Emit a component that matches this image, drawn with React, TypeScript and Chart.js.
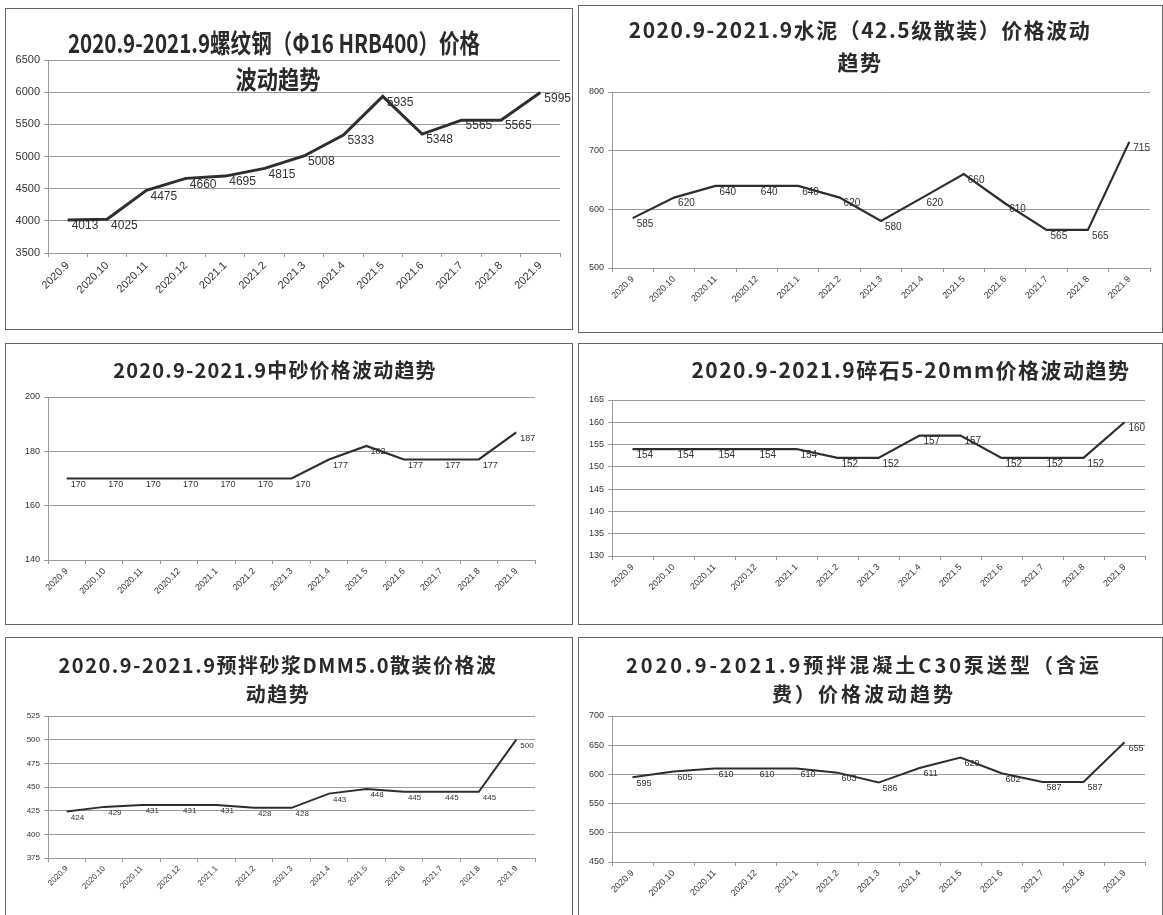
import React, { useEffect, useRef } from "react";
import { Chart, registerables } from "chart.js";

Chart.register(...registerables);

const categories = ["2020.9", "2020.10", "2020.11", "2020.12", "2021.1", "2021.2", "2021.3", "2021.4", "2021.5", "2021.6", "2021.7", "2021.8", "2021.9"];

const rebarPrices = [4013, 4025, 4475, 4660, 4695, 4815, 5008, 5333, 5935, 5348, 5565, 5565, 5995];
const cementPrices = [585, 620, 640, 640, 640, 620, 580, 620, 660, 610, 565, 565, 715];
const sandPrices = [170, 170, 170, 170, 170, 170, 170, 177, 182, 177, 177, 177, 187];
const gravelPrices = [154, 154, 154, 154, 154, 152, 152, 157, 157, 152, 152, 152, 160];
const mortarPrices = [424, 429, 431, 431, 431, 428, 428, 443, 448, 445, 445, 445, 500];
const concretePrices = [595, 605, 610, 610, 610, 603, 586, 611, 629, 602, 587, 587, 655];

const rebarTicks = [3500, 4000, 4500, 5000, 5500, 6000, 6500];
const cementTicks = [500, 600, 700, 800];
const sandTicks = [140, 160, 180, 200];
const gravelTicks = [130, 135, 140, 145, 150, 155, 160, 165];
const mortarTicks = [375, 400, 425, 450, 475, 500, 525];
const concreteTicks = [450, 500, 550, 600, 650, 700];

const rebarTitle = ["2020.9-2021.9螺纹钢（Φ16 HRB400）价格", "波动趋势"];
const cementTitle = ["2020.9-2021.9水泥（42.5级散装）价格波动", "趋势"];
const sandTitle = ["2020.9-2021.9中砂价格波动趋势"];
const gravelTitle = ["2020.9-2021.9碎石5-20mm价格波动趋势"];
const mortarTitle = ["2020.9-2021.9预拌砂浆DMM5.0散装价格波", "动趋势"];
const concreteTitle = ["2020.9-2021.9预拌混凝土C30泵送型（含运", "费）价格波动趋势"];

type Box = { x: number; y: number; w: number; h: number };
type Plot = { l: number; t: number; r: number; b: number };
type TitleLine = { cx: number; cy: number; size: number; scaleX: number; spacing: number };

type PanelCfg = {
  box: Box;
  plot: Plot;
  values: number[];
  ticks: number[];
  title: string[];
  titleLines: TitleLine[];
  tickSize: number;
  labelSize: number;
  lineWidth: number;
};

const panels: PanelCfg[] = [
  {
    box: { x: 5, y: 8, w: 568, h: 322 },
    plot: { l: 48, t: 60, r: 560, b: 253 },
    values: rebarPrices,
    ticks: rebarTicks,
    title: rebarTitle,
    titleLines: [
      { cx: 274, cy: 42, size: 26, scaleX: 0.79, spacing: 0 },
      { cx: 278, cy: 78, size: 25, scaleX: 0.85, spacing: 0 },
    ],
    tickSize: 11,
    labelSize: 12,
    lineWidth: 3,
  },
  {
    box: { x: 578, y: 5, w: 585, h: 328 },
    plot: { l: 612, t: 92, r: 1150, b: 268 },
    values: cementPrices,
    ticks: cementTicks,
    title: cementTitle,
    titleLines: [
      { cx: 860, cy: 30, size: 21, scaleX: 1, spacing: 1.5 },
      { cx: 860, cy: 62, size: 21, scaleX: 1, spacing: 1.5 },
    ],
    tickSize: 9,
    labelSize: 10,
    lineWidth: 2.2,
  },
  {
    box: { x: 5, y: 343, w: 568, h: 282 },
    plot: { l: 48, t: 397, r: 535, b: 560 },
    values: sandPrices,
    ticks: sandTicks,
    title: sandTitle,
    titleLines: [{ cx: 275, cy: 370, size: 20, scaleX: 1, spacing: 1.2 }],
    tickSize: 9,
    labelSize: 9,
    lineWidth: 2.2,
  },
  {
    box: { x: 578, y: 343, w: 585, h: 282 },
    plot: { l: 612, t: 400, r: 1145, b: 556 },
    values: gravelPrices,
    ticks: gravelTicks,
    title: gravelTitle,
    titleLines: [{ cx: 911, cy: 370, size: 21, scaleX: 1, spacing: 1.5 }],
    tickSize: 9,
    labelSize: 10,
    lineWidth: 2.2,
  },
  {
    box: { x: 5, y: 637, w: 568, h: 290 },
    plot: { l: 48, t: 716, r: 535, b: 858 },
    values: mortarPrices,
    ticks: mortarTicks,
    title: mortarTitle,
    titleLines: [
      { cx: 278, cy: 665, size: 20, scaleX: 1, spacing: 1.5 },
      { cx: 278, cy: 694, size: 20, scaleX: 1, spacing: 1.5 },
    ],
    tickSize: 8,
    labelSize: 8,
    lineWidth: 2,
  },
  {
    box: { x: 578, y: 637, w: 585, h: 290 },
    plot: { l: 612, t: 716, r: 1145, b: 862 },
    values: concretePrices,
    ticks: concreteTicks,
    title: concreteTitle,
    titleLines: [
      { cx: 864, cy: 665, size: 20, scaleX: 1, spacing: 3 },
      { cx: 864, cy: 694, size: 20, scaleX: 1, spacing: 3 },
    ],
    tickSize: 9,
    labelSize: 9,
    lineWidth: 2,
  },
];

const TEXT = "#333";
const GRID = "#9a9a9a";

function Panel({ cfg }: { cfg: PanelCfg }) {
  const ref = useRef<HTMLCanvasElement | null>(null);
  useEffect(() => {
    if (!ref.current) return;
    const { box, plot, values, ticks, tickSize, labelSize, lineWidth } = cfg;
    const labelPlugin = {
      id: "valueLabels",
      afterDatasetsDraw(chart: any) {
        const ctx = chart.ctx;
        const meta = chart.getDatasetMeta(0);
        ctx.save();
        ctx.fillStyle = TEXT;
        ctx.font = `${labelSize}px "Liberation Sans", "DejaVu Sans", sans-serif`;
        ctx.textAlign = "left";
        ctx.textBaseline = "middle";
        meta.data.forEach((pt: any, i: number) => {
          ctx.fillText(String(values[i]), pt.x + 4, pt.y + 6);
        });
        ctx.restore();
      },
    };
    const chart = new Chart(ref.current, {
      type: "line",
      data: {
        labels: categories,
        datasets: [
          {
            data: values,
            borderColor: "#2e2e2e",
            borderWidth: lineWidth,
            pointRadius: 0,
            tension: 0,
            fill: false,
          },
        ],
      },
      options: {
        responsive: false,
        animation: false,
        devicePixelRatio: 1,
        layout: {
          padding: {
            left: 0,
            top: plot.t - box.y,
            right: box.x + box.w - plot.r,
            bottom: 0,
          },
        },
        plugins: {
          legend: { display: false },
          title: { display: false },
          tooltip: { enabled: false },
        },
        scales: {
          x: {
            type: "category",
            offset: true,
            grid: {
              display: true,
              drawOnChartArea: false,
              drawTicks: true,
              tickLength: 4,
              color: GRID,
              offset: true,
            },
            border: { display: true, color: GRID },
            ticks: {
              autoSkip: false,
              minRotation: 45,
              maxRotation: 45,
              padding: 2,
              color: TEXT,
              font: { size: tickSize, family: '"Liberation Sans", "DejaVu Sans", sans-serif' },
            },
            afterFit: (s: any) => {
              s.height = box.y + box.h - plot.b;
            },
          },
          y: {
            min: ticks[0],
            max: ticks[ticks.length - 1],
            ticks: {
              stepSize: ticks[1] - ticks[0],
              color: TEXT,
              padding: 4,
              font: { size: tickSize, family: '"Liberation Sans", "DejaVu Sans", sans-serif' },
              callback: (v: any) => String(v),
            },
            grid: { color: GRID, lineWidth: 1, drawTicks: true, tickLength: 4 },
            border: { display: true, color: GRID },
            afterFit: (s: any) => {
              s.width = plot.l - box.x;
            },
          },
        },
      } as any,
      plugins: [labelPlugin],
    });
    return () => chart.destroy();
  }, [cfg]);

  const { box } = cfg;
  return (
    <>
      <canvas
        ref={ref}
        width={box.w}
        height={box.h}
        style={{ position: "absolute", left: box.x, top: box.y, width: box.w, height: box.h }}
      />
      <div
        style={{
          position: "absolute",
          left: box.x,
          top: box.y,
          width: box.w,
          height: box.h,
          border: "1.5px solid #666",
          boxSizing: "border-box",
          pointerEvents: "none",
        }}
      />
      {cfg.title.map((t, i) => {
        const tl = cfg.titleLines[i];
        return (
          <div
            key={i}
            style={{
              position: "absolute",
              left: tl.cx - 400,
              width: 800,
              top: tl.cy - tl.size * 0.7,
              height: tl.size * 1.4,
              lineHeight: `${tl.size * 1.4}px`,
              textAlign: "center",
              fontFamily: '"Noto Sans CJK SC", "Noto Sans", sans-serif',
              fontWeight: 700,
              fontSize: tl.size,
              letterSpacing: tl.spacing,
              color: "#2a2a2a",
              transform: `scaleX(${tl.scaleX})`,
              whiteSpace: "nowrap",
            }}
          >
            {t}
          </div>
        );
      })}
    </>
  );
}

export default function App() {
  return (
    <div
      style={{
        position: "absolute",
        left: 0,
        top: 0,
        width: 1163,
        height: 915,
        background: "#fff",
        overflow: "hidden",
      }}
    >
      {panels.map((p, i) => (
        <Panel key={i} cfg={p} />
      ))}
    </div>
  );
}
